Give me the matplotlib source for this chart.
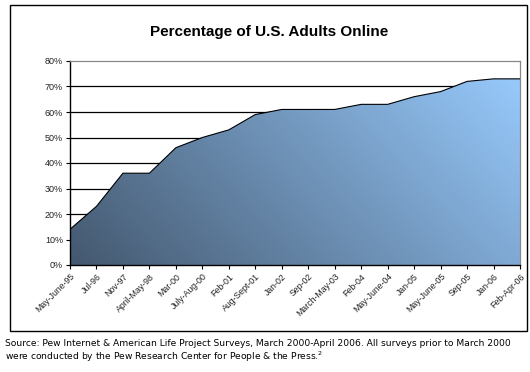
import matplotlib
matplotlib.use("Agg")
import matplotlib.pyplot as plt
import numpy as np
from matplotlib.colors import LinearSegmentedColormap
from matplotlib.patches import Rectangle

surveys = ["May-June-95", "Jul-96", "Nov-97", "April-May-98", "Mar-00",
           "July-Aug-00", "Feb-01", "Aug-Sept-01", "Jan-02", "Sep-02",
           "March-May-03", "Feb-04", "May-June-04", "Jan-05", "May-June-05",
           "Sep-05", "Jan-06", "Feb-Apr-06"]
online = [14, 23, 36, 36, 46, 50, 53, 59, 61, 61, 61, 63, 63, 66, 68, 72, 73, 73]
yticks = [0, 10, 20, 30, 40, 50, 60, 70, 80]

plt.rcParams['font.family'] = ['Liberation Sans', 'DejaVu Sans']

fig = plt.figure(figsize=(5.3, 3.72), dpi=100)
fig.patch.set_facecolor('white')

# outer frame
fig.patches.append(Rectangle((10/530, 1-331/372), 517/530, 326/372,
                             transform=fig.transFigure, fill=False,
                             edgecolor='black', linewidth=1.0))

ax = fig.add_axes([70/530, 1-265/372, 450/530, 204/372])
x = np.arange(len(online))

# gridlines behind the area
for v in yticks[1:-1]:
    ax.axhline(v, color='black', linewidth=0.9, zorder=1)

# gradient fill clipped to the area
cmap = LinearSegmentedColormap.from_list('g', ['#44586f', '#99ccff'])
gx, gy = np.meshgrid(np.linspace(0, 1, 300), np.linspace(0, 1, 200))
grad = 0.7*gx + 0.3*gy
poly = ax.fill_between(x, 0, online, facecolor='none', edgecolor='none')
img = ax.imshow(grad, cmap=cmap, vmin=0, vmax=1, origin='lower',
                extent=[0, len(online)-1, 0, 80], aspect='auto', zorder=2)
img.set_clip_path(poly.get_paths()[0], transform=ax.transData)
ax.plot(x, online, color='black', linewidth=0.8, zorder=3)

ax.set_xlim(0, len(online)-1)
ax.set_ylim(0, 80)
ax.set_yticks(yticks)
ax.set_yticklabels([f"{v}%" for v in yticks], fontsize=6.5, color='#222222')
ax.set_xticks(x)
ax.set_xticklabels(surveys, rotation=45, ha='right', rotation_mode='anchor',
                   fontsize=6.3, color='#222222')
ax.tick_params(axis='both', length=3, width=0.8, color='black', pad=2)

for s in ['left', 'bottom']:
    ax.spines[s].set_color('black')
    ax.spines[s].set_linewidth(1.0)
for s in ['top', 'right']:
    ax.spines[s].set_color('#888888')
    ax.spines[s].set_linewidth(0.9)

fig.text(269/530, 1-32/372, "Percentage of U.S. Adults Online",
         ha='center', va='center', fontsize=11, fontweight='bold')

fig.text(5/530, 1-343/372,
         "Source: Pew Internet & American Life Project Surveys, March 2000-April 2006. "
         "All surveys prior to March 2000",
         ha='left', va='center', fontsize=6.6, family='DejaVu Sans')
fig.text(5/530, 1-357/372,
         "were conducted by the Pew Research Center for People & the Press.$^{2}$",
         ha='left', va='center', fontsize=6.6, family='DejaVu Sans')

fig.savefig("out.png", dpi=100)
